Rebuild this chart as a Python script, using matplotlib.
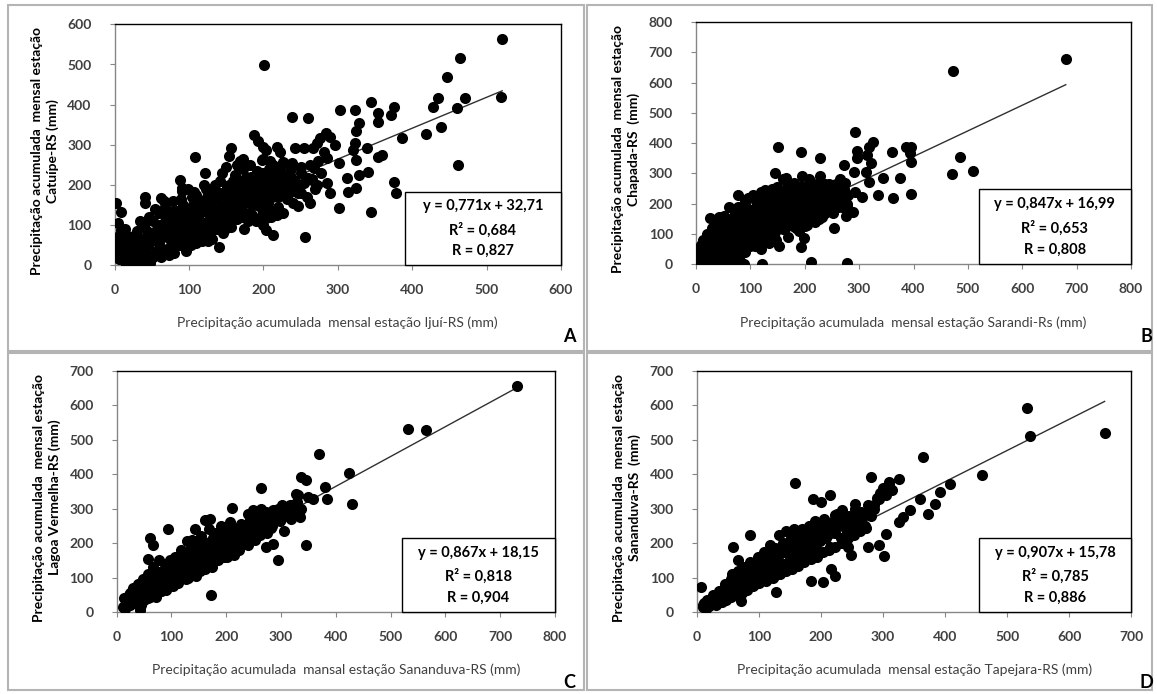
import matplotlib.pyplot as plt
from matplotlib.patches import Rectangle
import numpy as np

plt.rcParams['font.family'] = ['Lato', 'DejaVu Sans']

## A: Ijui-RS (x) vs Catuipe-RS (y)
pts_a = [(521,563),(464,515),(447,470),(520,420),(471,416),(435,416),(428,395),(460,392),(439,345),(419,326),
         (386,316),(461,249),(375,395),(354,378),(354,357),(371,374),(345,406),(360,274),(354,270),(339,291),
         (340,233),(375,208),(378,179),(345,133),(323,387),(303,387),(328,353),(325,333),(323,304),(321,287),
         (325,262),(328,224),(324,191),(314,183),(313,218),(301,141),(302,254),(260,366),(239,370),(201,499),
         (290,320),(284,328),(276,316),(272,303),(296,299),(267,291),(254,291),(243,291),(281,283),(286,266),
         (273,259),(268,241),(278,229),(265,212),(285,204),(289,179),(272,200),(260,216),(251,245),(238,254),
         (227,258),(218,295),(222,283),(204,287),(187,324),(193,309),(200,295),(198,262),(213,249),(222,237),
         (236,225),(245,200),(251,179),(238,191),(229,208),(262,154),(246,146),(256,71),(227,129),(218,125),
         (213,75),(204,87),(200,100),(204,116),(108,270),(121,229),(107,183),(88,212),(90,191),(63,166),
         (41,170),(41,154),(2,154),(9,133),(5,104),(9,87),(1,50),(1,38),(14,8),(39,4),
         (156,293),(154,272),(173,264),(165,250),
         (5,30),(8,60),(12,20),(15,75),(18,40),(22,10),(25,55),(28,28),(30,85),
         (33,45),(35,15),(38,65),(40,100),(42,30),(45,50),(48,5),(50,75),(52,110),(55,35),(57,90),(60,55),(60,130),
         (62,20),(64,75),(66,105),(68,145),(70,40),(72,90),(74,120),(76,60),(78,160),(80,30),(82,100),(84,135),
         (86,75),(88,50),(90,115),(90,185),
         (92,150),(94,90),(96,35),(98,130),(100,65),(102,105),(104,170),(106,80),(108,140),(110,55),(112,120),
         (114,95),(116,160),(118,75),(120,135),(120,200),
         (122,105),(124,170),(126,60),(128,145),(130,85),(132,190),(134,120),(136,100),(138,160),(140,45),
         (142,210),(144,135),(146,80),(148,175),(150,110),(150,245),
         (152,150),(154,200),(156,95),(158,130),(160,180),(162,225),(164,115),(166,160),(168,260),(170,140),
         (172,195),(174,90),(176,220),(178,170),(180,130),(180,205),
         (182,250),(184,185),(186,150),(188,215),(190,110),(192,235),(194,170),(196,200),(198,140),(200,265),
         (202,220),(204,185),(206,155),(208,240),(210,200),(210,120),
         (212,170),(215,230),(218,190),(220,145),(222,215),(225,175),(228,255),(230,200),(232,165),(235,225),
         (238,190),(240,155),(243,210),(246,180),(250,230),(255,205),(258,170),(262,250),(265,215),(270,190),
         (3,70),(6,15),(10,45),(14,90),(17,5),(20,60),(24,30),(27,75),(31,5),(34,110),(36,55),(39,25),(43,85),
         (46,120),(49,60),(51,20),(54,140),(58,75),(61,100),(63,40),(67,160),(69,120),(71,70),(73,25),(77,100),
         (79,135),(81,55),(83,80),(87,120),(89,165),(91,60),(93,100),(95,140),(97,80),(99,190),(101,120),
         (103,50),(105,150),(107,95),(109,175),(111,75),(113,140),(115,110),(117,60),(119,160),(121,90),
         (123,190),(125,130),(127,110),(129,170),(131,65),(133,150),(135,200),(137,90),(139,130),(141,180),
         (143,115),(145,230),(147,150),(149,90),(151,195),(153,130),(155,170),(157,110),(159,210),(161,150),
         (163,190),(165,135),(167,210),(169,175),(171,120),(173,240),(175,155),(177,190),(179,110),(181,180),
         (183,220),(185,125),(187,165),(189,195),(191,150),(193,210),(195,180),(197,120),(199,230),(201,160),
         (203,200),(205,140),(207,180),(209,260),(211,215),(213,135),(216,200),(219,170),(221,240),(224,205),
         (227,185),(231,215),(234,180),(237,240),(241,205)]

## B: Sarandi-Rs (x) vs Chapada-RS (y)
pts_b = [(680,678),(472,638),(486,355),(509,309),(471,297),(395,388),(394,366),(395,339),(395,231),(386,388),
         (376,284),(360,372),(362,218),(344,285),(334,229),(293,438),(325,405),(319,386),(315,361),(321,333),
         (296,375),(296,350),(312,306),(318,273),(306,223),(292,239),(289,174),(272,328),(290,306),(263,212),
         (278,191),(254,121),(278,3),(211,9),(193,58),(199,86),(228,352),(193,372),(151,388),(145,300),
         (165,284),(122,0),(77,229),(95,220),(43,157),(25,154),(10,64),(2,3),(64,0),(89,0),
         (2,5),(5,20),(8,40),(10,10),(14,55),(18,25),(22,70),(25,5),(28,45),(32,90),(35,20),(38,60),(40,110),
         (42,35),(45,80),(48,5),(50,130),(52,55),(55,100),(58,25),(60,150),(62,70),(65,115),(68,40),(70,90),
         (72,170),(75,55),(78,135),(80,10),(80,100),
         (82,160),(85,75),(88,120),(90,40),(92,190),(95,95),(98,145),(100,60),(102,175),(105,110),(108,80),
         (110,210),(112,135),(115,95),(118,160),(120,50),(120,240),
         (122,120),(125,185),(128,90),(130,150),(132,215),(135,70),(138,130),(140,250),(142,175),(145,105),
         (148,200),(150,140),(152,60),(155,230),(158,165),(160,115),(160,280),
         (162,195),(165,145),(168,255),(170,90),(172,220),(175,170),(178,125),(180,270),(182,200),(185,150),
         (188,240),(190,110),(192,185),(195,290),(198,215),(200,160),
         (202,250),(205,130),(208,195),(210,275),(212,225),(215,170),(218,140),(220,260),(222,210),(225,185),
         (228,290),(230,240),(232,155),(235,205),(238,265),(240,180),
         (243,230),(246,200),(250,260),(252,170),(255,240),(260,215),(265,280),(268,190),(272,250),(276,160),
         (280,230),
         (3,30),(6,55),(9,15),(12,80),(15,40),(19,5),(21,100),(24,60),(27,25),(30,120),(33,75),(36,45),(39,140),
         (41,15),(44,100),(47,60),(49,30),(51,160),(54,120),(57,80),(59,45),(61,190),(63,135),(66,95),(69,60),
         (71,150),(73,20),(74,115),(77,190),(79,75),(81,130),(83,45),(86,170),(89,95),(91,210),(93,135),(94,65),
         (97,115),(99,180),(101,85),(103,150),(104,230),(107,125),(109,60),(111,185),(113,100),(116,220),
         (117,140),(119,80),(121,195),(124,155),(126,115),(127,245),(129,175),(131,95),(133,135),(134,200),
         (137,160),(139,110),(141,225),(143,145),(146,185),(147,80),(149,255),(151,170),(153,120),(154,210),
         (157,145),(159,190),(161,240),(163,165),(164,120),(167,205),(169,150),(171,265),(173,185),(174,135),
         (177,230),(179,160),(181,210),(183,120),(184,250),(187,175),(189,215),(191,140),(193,260),(194,195),
         (197,170),(199,240),(201,125),(203,210),(206,180),(207,280),(209,150),(211,240),(214,200),(216,265),
         (217,160),(219,225),(221,185),(224,250),(226,210),(227,150),(229,270),(231,195),(234,230),(237,170),
         (239,245),(241,210),(244,265),(247,185),(249,225),(253,205),(257,265),(262,190),(266,240),(270,210),
         (274,270),(278,200)]

## C: Sananduva-RS (x) vs Lagoa Vermelha-RS (y)
pts_c = [(730,655),(532,532),(565,530),(369,458),(424,405),(430,315),(380,363),(383,327),(346,194),(337,392),
         (346,382),(331,339),(337,300),(264,360),(295,150),(273,189),(286,198),(211,302),(173,48),(94,242),
         (61,215),(67,194),(58,155),(15,10),(43,5),
         (358,329),(349,334),(328,344),(316,310),(304,300),(295,281),(279,271),(264,252),(255,290),(243,271),
         (264,300),(207,261),(170,271),(161,266),(143,242),(319,271),(334,276),(240,286),(248,295),
         (15,15),(18,35),(20,25),(25,20),(25,55),(28,40),(30,70),(35,30),(36,60),(38,80),(40,45),
         (44,20),(45,70),(47,50),(48,95),(50,35),(53,60),(55,85),(57,40),(58,110),(60,70),
         (62,50),(64,95),(66,130),(68,65),(70,85),(72,45),(73,110),(75,75),(77,150),(78,95),(80,60),
         (82,120),(84,80),(86,100),(88,140),(90,65),(92,110),(94,85),(96,130),(98,150),(100,95),
         (102,75),(104,120),(106,160),(108,100),(110,135),(112,85),(114,150),(116,115),(118,180),(120,100),
         (122,130),(124,165),(126,95),(128,205),(130,140),(132,115),(134,180),(136,150),(138,210),(140,125),
         (142,160),(144,105),(146,195),(148,140),(150,170),(152,120),(154,220),(156,155),(158,185),(160,135),
         (162,200),(164,145),(166,170),(168,240),(170,155),(172,190),(174,130),(176,215),(178,160),(180,180),
         (182,230),(184,150),(186,200),(188,170),(190,250),(192,185),(194,215),(196,160),(198,230),(200,195),
         (202,175),(204,245),(206,210),(208,185),(210,225),(212,200),(214,165),(216,240),(218,215),(220,190),
         (222,230),(224,180),(226,255),(228,205),(230,220),(235,215),(238,245),(240,195),(244,260),(246,230),
         (250,250),(252,210),(255,280),(258,240),(262,225),(265,265),(268,290),(272,250),(275,230),(278,275),
         (282,245),(285,260),(290,280),(295,300),(298,265),(302,290),(305,235),(308,305),(312,280),(315,300),
         (320,310),(325,290),(330,320),
         (12,15),(14,40),(22,20),(23,50),(32,25),(33,65),(42,35),(43,75),(52,40),(51,85),(61,45),(63,100),
         (71,55),(72,100),(81,60),(83,110),(91,70),(93,125),(101,85),(103,135),(111,95),(113,135),(121,100),
         (123,150),(131,100),(133,160),(141,120),(143,175),(151,130),(153,180),(161,125),(163,185),(171,140),
         (173,205),(181,155),(183,205),(191,165),(193,210),(201,160),(203,225),(211,180),(213,230),(221,195),
         (223,240),(231,200),(233,250),(241,210),(243,255),(251,225),(253,265),(261,240),(263,280),(271,240),
         (273,290),(284,250),(286,295),(300,270),(301,310)]

## D: Tapejara-RS (x) vs Sananduva-RS (y)
pts_d = [(532,593),(536,511),(657,521),(459,397),(365,450),(407,373),(391,350),(384,315),(373,286),(359,329),
         (343,295),(332,276),(325,261),(325,387),(310,377),(302,358),(281,392),(304,227),(276,189),(294,194),
         (302,162),(254,315),(234,295),(215,339),(187,329),(200,319),(158,376),(85,223),(58,189),(66,150),
         (7,73),(203,87),(184,90),(128,58),(71,31),(10,21),
         (302,344),(294,329),(286,310),(278,295),(265,271),(257,252),(238,271),(222,281),(254,232),(222,242),
         (249,165),(243,189),(216,126),(222,106),
         (10,15),(12,25),(15,10),(18,30),(20,18),(25,25),(28,40),(30,20),(33,50),(35,35),(38,60),(40,30),
         (42,45),(45,70),(47,35),(50,55),(52,85),(55,45),(57,110),(60,65),
         (62,90),(64,50),(66,120),(68,75),(70,100),(72,55),(74,130),(76,85),(78,110),(80,65),
         (82,125),(84,90),(86,145),(88,105),(90,75),(92,130),(94,95),(96,115),(98,160),(100,85),
         (102,120),(104,140),(106,100),(108,175),(110,125),(112,90),(114,155),(116,110),(118,195),(120,140),
         (122,165),(124,105),(126,185),(128,130),(130,150),(132,225),(134,120),(136,170),(138,200),(140,140),
         (142,180),(144,235),(146,130),(148,195),(150,160),(152,215),(154,145),(156,240),(158,175),(160,200),
         (162,155),(164,220),(166,190),(168,170),(170,240),(172,205),(174,165),(176,225),(178,185),(180,250),
         (182,210),(184,175),(186,235),(188,195),(190,265),(192,220),(194,180),(196,245),(198,205),(200,230),
         (205,270),(208,215),(212,245),(215,190),(218,260),(222,230),(225,285),(228,250),(232,215),(236,265),
         (240,240),(245,280),(250,255),(255,300),(260,265),(265,290),(270,250),(275,310),(280,280),(285,300),
         (290,330),(295,345),(300,360),(305,340),(310,370),(315,355),
         (14,20),(16,35),(23,28),(25,50),(33,35),(35,62),(43,40),(45,80),(53,50),(55,95),(63,60),(65,105),
         (73,65),(75,115),(83,70),(85,120),(93,80),(95,135),(103,90),(105,150),(113,95),(115,170),(123,100),
         (125,160),(133,110),(135,190),(143,120),(145,200),(153,125),(155,190),(163,135),(165,200),(173,145),
         (175,210),(183,155),(185,220),(193,160),(195,225),(203,175),(205,240),(213,180),(215,255),(223,190),
         (225,260),(233,200),(235,255),(243,215),(245,265),(253,225),(255,280),(263,235),(265,275),(273,245),
         (275,290)]

## trend line coefficients (slope, intercept) and stats text
coef = [(0.771, 32.71), (0.847, 16.99), (0.867, 18.15), (0.907, 15.78)]
stats = [("y = 0,771x + 32,71", "R² = 0,684", "R = 0,827"),
         ("y = 0,847x + 16,99", "R² = 0,653", "R = 0,808"),
         ("y = 0,867x + 18,15", "R² = 0,818", "R = 0,904"),
         ("y = 0,907x + 15,78", "R² = 0,785", "R = 0,886")]
xmax = [600, 800, 800, 700]
ymax = [600, 800, 700, 700]
xlabels = ["Precipitação acumulada  mensal estação Ijuí-RS (mm)",
           "Precipitação acumulada  mensal estação Sarandi-Rs (mm)",
           "Precipitação acumulada  mansal estação Sananduva-RS (mm)",
           "Precipitação acumulada  mensal estação Tapejara-RS (mm)"]
ylabels = ["Precipitação acumulada  mensal estação\nCatuípe-RS (mm)",
           "Precipitação acumulada  mensal estação\nChapada-RS  (mm)",
           "Precipitação acumulada  mensal estação\nLagoa Vermelha-RS (mm)",
           "Precipitação acumulada  mensal estação\nSananduva-RS  (mm)"]
letters = ["A", "B", "C", "D"]
data = [pts_a, pts_b, pts_c, pts_d]

W, H = 1157, 694
fig = plt.figure(figsize=(W/100, H/100), dpi=100)

# axes boxes in pixels: left, top, right, bottom
boxes = [(114.6, 24.4, 561, 265), (696, 22, 1131, 264.3), (116.7, 371, 555, 612), (697, 371, 1131.3, 612)]
frames = [(8, 5, 584, 351), (587, 5, 1152, 351), (8, 353, 584, 690), (587, 353, 1152, 690)]
letter_pos = [(569, 336), (1146, 336), (569, 683), (1146, 683)]
box_top = [0.305, 0.311, 0.308, 0.308]

for i in range(4):
    l, t, r, b = boxes[i]
    ax = fig.add_axes([l/W, 1-b/H, (r-l)/W, (b-t)/H])
    xs = np.array([p[0] for p in data[i]])
    ys = np.array([p[1] for p in data[i]])
    m, c = coef[i]
    xl = np.array([xs.min(), xs.max()])
    ax.plot(xl, m*xl + c, color='#303030', lw=1, zorder=2)
    ax.scatter(xs, ys, s=64, color='black', linewidths=0, zorder=3)
    ax.set_xlim(0, xmax[i])
    ax.set_ylim(0, ymax[i])
    ax.set_xticks(np.arange(0, xmax[i]+1, 100))
    ax.set_yticks(np.arange(0, ymax[i]+1, 100))
    ax.tick_params(direction='out', length=3.5, width=0.8, color='#868686',
                   labelsize=10, labelcolor='#404040')
    ax.tick_params(axis='x', pad=10)
    ax.tick_params(axis='y', pad=13)
    for lab in ax.get_xticklabels() + ax.get_yticklabels():
        lab.set_fontweight('bold')
    for s in ['left', 'bottom']:
        ax.spines[s].set_color('#868686')
    for s in ['top', 'right']:
        ax.spines[s].set_color('black')
    for s in ax.spines.values():
        s.set_linewidth(1)

    # stats box
    bl = 0.65
    bt = box_top[i]
    ax.add_patch(Rectangle((bl, 0), 1-bl, bt, transform=ax.transAxes, facecolor='white',
                           edgecolor='black', lw=1, zorder=4, clip_on=False))
    cx = (bl+1)/2
    for f, txt in zip([0.2, 0.52, 0.81], stats[i]):
        ax.text(cx, bt*(1-f), txt, transform=ax.transAxes, ha='center', va='center',
                fontsize=10.5, fontweight='bold', color='black', zorder=5)

    # axis labels
    fig.text((l+r)/2/W, 1-(b+58)/H, xlabels[i], ha='center', va='center',
             fontsize=10, color='#404040')
    fig.text((l-70)/W, 1-((t+b)/2+6)/H, ylabels[i], ha='center', va='center',
             rotation=90, fontsize=10, fontweight='bold', color='black', linespacing=1.3)

    # panel frame and letter
    fl, ft, fr, fb = frames[i]
    fig.patches.append(Rectangle((fl/W, 1-fb/H), (fr-fl)/W, (fb-ft)/H, transform=fig.transFigure,
                                 fill=False, edgecolor='#b4b4b4', lw=1.5))
    lx, ly = letter_pos[i]
    fig.text(lx/W, 1-ly/H, letters[i], ha='center', va='center', fontsize=13,
             fontweight='bold', color='black')

fig.savefig('out.png', dpi=100)
